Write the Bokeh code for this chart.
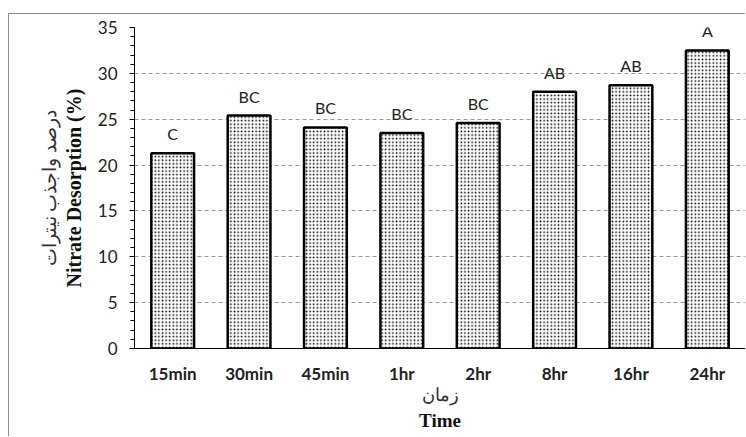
from bokeh.plotting import figure
from bokeh.models import (ColumnDataSource, Range1d, SingleIntervalTicker,
                          LabelSet, Title)
from bokeh.core.properties import value
from bokeh.embed import file_html
from bokeh.resources import INLINE

times = ["15min", "30min", "45min", "1hr", "2hr", "8hr", "16hr", "24hr"]
desorption = [21.3, 25.4, 24.1, 23.5, 24.6, 28.0, 28.7, 32.5]
letters = ["C", "BC", "BC", "BC", "BC", "AB", "AB", "A"]

src = ColumnDataSource(dict(t=times, v=desorption, g=letters))

p = figure(x_range=times, y_range=Range1d(0, 35), width=737, height=423,
           output_backend="svg", toolbar_location=None,
           min_border_left=125, min_border_right=1, min_border_top=13,
           min_border_bottom=89,
           styles={"border-top": "1px solid #8c8c8c",
                   "border-left": "1px solid #8c8c8c",
                   "margin-top": "13px", "margin-left": "8px"})
p.outline_line_color = None
p.border_fill_color = "white"
p.background_fill_color = "white"

p.vbar(x="t", top="v", width=0.56, source=src, fill_color="white",
       line_color="black", line_width=2.5,
       hatch_pattern="dot", hatch_scale=3.6, hatch_weight=1.3,
       hatch_color="black")

labels = LabelSet(x="t", y="v", text="g", source=src, text_align="center",
                  text_baseline="bottom", y_offset=10,
                  text_font=value("Lato"), text_font_size="16px",
                  text_color="#222222")
p.add_layout(labels)

# y axis
ya = p.yaxis[0]
ya.ticker = SingleIntervalTicker(interval=5, num_minor_ticks=5)
ya.major_label_text_font = "Lato"
ya.major_label_text_font_size = "17px"
ya.major_label_text_color = "#222222"
ya.major_tick_out = 5
ya.major_tick_in = 0
ya.minor_tick_out = 4
ya.minor_tick_in = 0
ya.major_label_standoff = 12
ya.axis_line_color = "black"

p.add_layout(Title(text="Nitrate Desorption (%)", align="center", offset=17,
                   text_font="Liberation Serif", text_font_style="bold",
                   text_font_size="20px", text_color="#111111", standoff=20),
             "left")
p.add_layout(Title(text="درصد واجذب نیترات", align="center", offset=12,
                   text_font="Liberation Serif", text_font_style="normal",
                   text_font_size="19px", text_color="#333333", standoff=-18),
             "left")

# x axis
xa = p.xaxis[0]
xa.major_tick_line_color = None
xa.minor_tick_line_color = None
xa.major_tick_out = 0
xa.major_tick_in = 0
xa.minor_tick_out = 0
xa.major_label_text_font = "Lato"
xa.major_label_text_font_style = "bold"
xa.major_label_text_font_size = "17px"
xa.major_label_text_color = "#222222"
xa.major_label_standoff = 14
xa.axis_line_color = "black"
xa.axis_line_width = 1

p.add_layout(Title(text="زمان", align="center", offset=-3,
                   text_font="Liberation Serif", text_font_style="normal",
                   text_font_size="18px", text_color="#333333", standoff=-7),
             "below")
p.add_layout(Title(text="Time", align="center", offset=-3,
                   text_font="Liberation Serif", text_font_style="bold",
                   text_font_size="19px", text_color="#111111", standoff=13),
             "below")

p.xgrid.grid_line_color = None
p.ygrid.grid_line_color = "#9a9a9a"
p.ygrid.grid_line_dash = "4 3"
p.ygrid.grid_line_width = 1

open("out.html", "w").write(file_html(p, INLINE))
